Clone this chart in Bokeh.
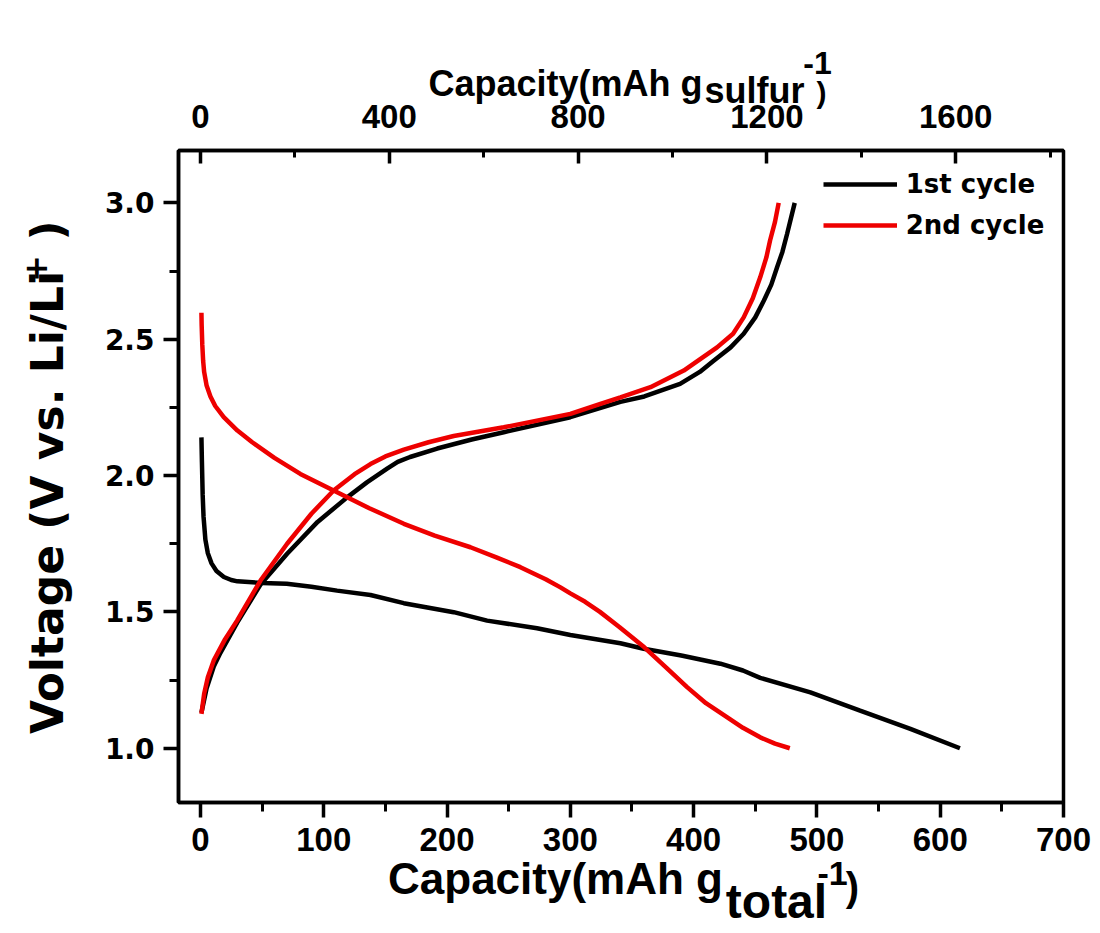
from bokeh.plotting import figure
from bokeh.models import (Range1d, LinearAxis, SingleIntervalTicker, FixedTicker,
                          PrintfTickFormatter, Legend, LegendItem)
from bokeh.embed import file_html
from bokeh.resources import INLINE

# ---------------- data ----------------
cap_1st_dis = [0.8, 1.2, 1.8, 2.5, 4, 6, 9, 13, 19, 25, 30, 50, 70, 90, 110.8,
               137.9, 164.9, 205.4, 232.5, 273, 300, 340.6, 359.5, 390, 421.7,
               440, 454, 494.7, 535, 575.8, 616]
v_1st_dis = [2.14, 2.05, 1.93, 1.85, 1.765, 1.715, 1.678, 1.65, 1.628, 1.617,
             1.612, 1.606, 1.603, 1.592, 1.578, 1.562, 1.532, 1.499, 1.468, 1.44,
             1.415, 1.385, 1.365, 1.34, 1.31, 1.285, 1.258, 1.205, 1.138, 1.071, 1.0]

cap_1st_chg = [0.8, 5, 10.8, 16.2, 29.7, 48.7, 70.3, 95, 119, 135, 151.4, 160,
               170, 192, 220, 246, 300, 340.6, 360, 389, 405, 416, 430, 440.6,
               450, 457, 463, 467.7, 472, 475.8, 482]
v_1st_chg = [1.13, 1.22, 1.30, 1.35, 1.46, 1.60, 1.713, 1.83, 1.92, 1.975, 2.025,
             2.05, 2.068, 2.099, 2.132, 2.159, 2.214, 2.27, 2.29, 2.336, 2.38,
             2.42, 2.47, 2.52, 2.58, 2.642, 2.70, 2.764, 2.82, 2.886, 3.0]

cap_2nd_dis = [0.8, 1.0, 1.5, 2.2, 3, 5, 8.1, 12, 18.9, 30, 42, 60, 81, 108, 137,
               165, 190, 219, 240, 259.5, 280, 292, 300, 312, 324, 340, 360, 378,
               394.7, 410, 427, 440, 454, 466, 478]
v_2nd_dis = [2.597, 2.55, 2.48, 2.42, 2.38, 2.33, 2.29, 2.255, 2.214, 2.165,
             2.122, 2.065, 2.006, 1.945, 1.88, 1.823, 1.78, 1.737, 1.70, 1.664,
             1.62, 1.59, 1.568, 1.537, 1.50, 1.444, 1.37, 1.295, 1.224, 1.165,
             1.114, 1.075, 1.04, 1.017, 1.0]

cap_2nd_chg = [0.8, 3, 6, 10.8, 20, 29.7, 48.7, 70.3, 90, 108, 125, 137.9, 150,
               165, 185, 205.4, 246, 300, 324.4, 340.6, 365, 392, 419, 432,
               440.6, 448, 454, 459, 462, 466, 469]
v_2nd_chg = [1.126, 1.2, 1.26, 1.322, 1.40, 1.468, 1.615, 1.75, 1.86, 1.945,
             2.005, 2.042, 2.07, 2.095, 2.122, 2.145, 2.177, 2.226, 2.263, 2.287,
             2.324, 2.385, 2.47, 2.52, 2.58, 2.65, 2.727, 2.80, 2.862, 2.93, 3.0]

series_labels = ["1st cycle", "2nd cycle"]
series_colors = ["black", "#ee0000"]

X_START, X_END = -17.8, 700
Y_START, Y_END = 0.801, 3.192
SULFUR_RATIO = 2.612   # mAh/g_sulfur per mAh/g_total

# ---------------- figure ----------------
W, H = 1100, 933
ML, MR, MT, MB = 178, 37, 150, 131
FL, FR, FT, FB = ML, W - MR, MT, H - MB

p = figure(width=W, height=H, x_range=Range1d(X_START, X_END),
           y_range=Range1d(Y_START, Y_END), output_backend="svg",
           toolbar_location=None, min_border_left=ML, min_border_right=MR,
           min_border_top=MT, min_border_bottom=MB)
p.grid.visible = False
p.background_fill_color = "white"
p.border_fill_color = "white"
p.outline_line_color = "black"
p.outline_line_width = 3.5
p.outline_line_alpha = 1.0

bottom_axis = p.below[0]
left_axis = p.left[0]

p.extra_x_ranges = {"sulfur": Range1d(X_START * SULFUR_RATIO, X_END * SULFUR_RATIO)}
top_axis = LinearAxis(x_range_name="sulfur")
p.add_layout(top_axis, "above")

bottom_axis.ticker = SingleIntervalTicker(interval=100, num_minor_ticks=2)
top_axis.ticker = SingleIntervalTicker(interval=400, num_minor_ticks=2)
left_axis.ticker = SingleIntervalTicker(interval=0.5, num_minor_ticks=2)
left_axis.formatter = PrintfTickFormatter(format="%.1f")

for ax in [bottom_axis, left_axis, top_axis]:
    ax.axis_line_width = 3.5
    ax.axis_line_color = "black"
    ax.major_tick_line_width = 3.5
    ax.minor_tick_line_width = 3
    ax.major_tick_line_color = "black"
    ax.minor_tick_line_color = "black"
    ax.major_label_text_color = "black"
    ax.major_label_text_font_style = "bold"

for ax in [bottom_axis, left_axis]:
    ax.major_tick_out = 15
    ax.major_tick_in = 0
    ax.minor_tick_out = 9
    ax.minor_tick_in = 0

top_axis.major_tick_in = 13
top_axis.major_tick_out = 0
top_axis.minor_tick_in = 7
top_axis.minor_tick_out = 0

bottom_axis.major_label_text_font = "Liberation Sans"
bottom_axis.major_label_text_font_size = "33px"
bottom_axis.major_label_standoff = 10
top_axis.major_label_text_font = "Liberation Sans"
top_axis.major_label_text_font_size = "33px"
top_axis.major_label_standoff = 23
left_axis.major_label_text_font = "DejaVu Sans"
left_axis.major_label_text_font_size = "28px"
left_axis.major_label_standoff = 9

# ---------------- curves ----------------
LW = 4.5
r1a = p.line(cap_1st_dis, v_1st_dis, line_color=series_colors[0], line_width=LW)
r1b = p.line(cap_1st_chg, v_1st_chg, line_color=series_colors[0], line_width=LW)
r2a = p.line(cap_2nd_dis, v_2nd_dis, line_color=series_colors[1], line_width=LW)
r2b = p.line(cap_2nd_chg, v_2nd_chg, line_color=series_colors[1], line_width=LW)

legend = Legend(items=[LegendItem(label=series_labels[0], renderers=[r1a]),
                       LegendItem(label=series_labels[1], renderers=[r2a])],
                location=(644.7, 561.7))
legend.label_text_font = "DejaVu Sans"
legend.label_text_font_style = "bold"
legend.label_text_font_size = "26px"
legend.label_text_color = "black"
legend.glyph_width = 74
legend.glyph_height = 30
legend.label_height = 30
legend.label_standoff = 9
legend.spacing = 11
legend.padding = 0
legend.margin = 0
legend.border_line_color = None
legend.background_fill_alpha = 0
p.add_layout(legend)

# ---------------- axis titles built from text-only axes ----------------
# Each piece of a title (main text, subscript, superscript, bracket) is the
# single tick label of an invisible axis; axes stack outward from the frame,
# and each one's label standoff sets where its text sits.


def px_x(X):
    return X_START + (X - FL) * (X_END - X_START) / (FR - FL)


def px_y(Y):
    return Y_END - (Y - FT) * (Y_END - Y_START) / (FB - FT)


def text_axis(side, pieces, size, font, standoff, orientation="horizontal"):
    ticks = [round(v, 4) for v, _ in pieces]
    ax = LinearAxis()
    ax.ticker = FixedTicker(ticks=ticks, minor_ticks=[])
    ax.major_label_overrides = {t: txt for t, (_, txt) in zip(ticks, pieces)}
    ax.axis_line_color = None
    ax.major_tick_line_color = None
    ax.minor_tick_line_color = None
    ax.major_tick_out = 0
    ax.major_tick_in = 0
    ax.minor_tick_out = 0
    ax.minor_tick_in = 0
    ax.major_label_standoff = int(standoff)
    ax.major_label_text_font = font
    ax.major_label_text_font_size = f"{size}px"
    ax.major_label_text_font_style = "bold"
    ax.major_label_text_color = "black"
    ax.major_label_orientation = orientation
    p.add_layout(ax, side)


LIB, DJV = "Liberation Sans", "DejaVu Sans"

# bottom title: Capacity(mAh g_total^-1)  -> (centre px, text), size, font, standoff
for pieces, size, font, so in [
    ([(832, "-1")], 34, LIB, 8),
    ([(555, "Capacity(mAh g")], 44, LIB, -34),
    ([(852, ")")], 40, LIB, -41),
    ([(776, "total")], 48, LIB, -37),
]:
    text_axis("below", [(px_x(X), t) for X, t in pieces], size, font, so)

# top title: Capacity(mAh g_sulfur^-1)
for pieces, size, font, so in [
    ([(754, "sulfur")], 36, LIB, -9),
    ([(821, ")")], 30, LIB, -42),
    ([(565, "Capacity(mAh g")], 36, LIB, -37),
    ([(817, "-1")], 32, LIB, -14),
]:
    text_axis("above", [(px_x(X), t) for X, t in pieces], size, font, so)

# left title: Voltage (V vs. Li/Li^+)
for pieces, size, font, so in [
    ([(502, "Voltage (V vs. Li/Li"), (230, ")")], 44, DJV, 28),
    ([(268, "+")], 32, DJV, -28),
]:
    text_axis("left", [(px_y(Y), t) for Y, t in pieces], size, font, so,
              orientation="vertical")

open("out.html", "w").write(file_html(p, INLINE))
